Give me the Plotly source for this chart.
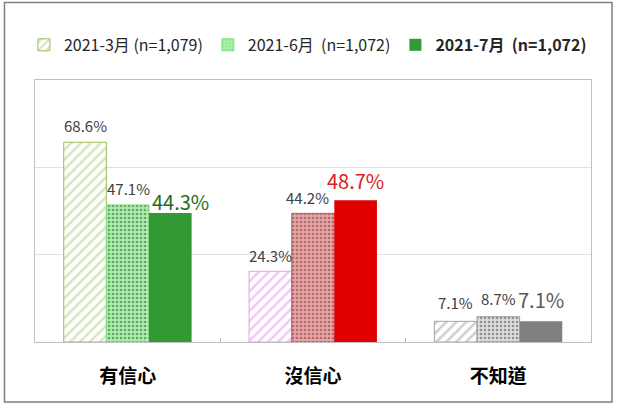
import plotly.graph_objects as go

categories = ["有信心", "沒信心", "不知道"]
series_names = ["2021-3月 (n=1,079)", "2021-6月  (n=1,072)", "<b>2021-7月  (n=1,072)</b>"]
mar_vals = [68.6, 24.3, 7.1]
jun_vals = [47.1, 44.2, 8.7]
jul_vals = [44.3, 48.7, 7.1]
all_vals = [mar_vals, jun_vals, jul_vals]

FONT = "Noto Sans CJK TC, Noto Sans, sans-serif"

mar_fg = ["#A9CC77", "#EE88EE", "#999999"]
mar_line = ["#9BBB59", "#E8A0E8", "#A6A6A6"]
jun_bg = ["#A6F2A6", "#F0A0A0", "#DDDDDD"]
jun_fg = ["#7AD87A", "#D04848", "#A8A8A8"]
jun_line = ["#80E080", "#C06060", "#A0A0A0"]
jul_col = ["#339933", "#E00000", "#808080"]
jul_text = ["#1E6E1E", "#E0201F", "#595959"]

# label styling (per series / per category)
label_sizes = [15, 15, 20]
label_colors = [["#404040"] * 3, ["#404040"] * 3, jul_text]
label_dx = [[0, 0, 0], [1, -6, 0], [10, 0, 0]]   # px nudges, as in the original
label_dy = [[4, 3, 6], [4, 3, 6], [-5, 3, 5]]

W, H = 619, 412
ML, MR, MT, MB = 35, 28, 80, 70
BARGAP = 0.31
plot_w = W - ML - MR
bar_px = plot_w / len(categories) * (1 - BARGAP) / 3

fig = go.Figure()
fig.add_trace(go.Bar(
    x=categories, y=mar_vals, name=series_names[0],
    marker=dict(color="white", line=dict(color=mar_line, width=1),
                pattern=dict(shape="/", fgcolor=mar_fg, bgcolor="white", size=7, solidity=0.35)),
))
fig.add_trace(go.Bar(
    x=categories, y=jun_vals, name=series_names[1],
    marker=dict(color=jun_bg, line=dict(color=jun_line, width=1),
                pattern=dict(shape=".", fgcolor=jun_fg, bgcolor=jun_bg, size=4, solidity=0.35)),
))
fig.add_trace(go.Bar(
    x=categories, y=jul_vals, name=series_names[2],
    marker=dict(color=jul_col, line=dict(width=0)),
))

for j, vals in enumerate(all_vals):
    for i, v in enumerate(vals):
        fig.add_annotation(
            x=categories[i], y=v, xref="x", yref="y",
            text=f"{v:.1f}%", showarrow=False,
            xanchor="center", yanchor="bottom",
            xshift=(j - 1) * bar_px + label_dx[j][i], yshift=label_dy[j][i],
            font=dict(size=label_sizes[j], color=label_colors[j][i], family=FONT),
        )

fig.update_layout(
    width=W, height=H,
    margin=dict(l=ML, r=MR, t=MT, b=MB),
    paper_bgcolor="white", plot_bgcolor="white",
    barmode="group", bargap=BARGAP, bargroupgap=0,
    font=dict(family=FONT, color="#262626"),
    showlegend=True,
    legend=dict(orientation="h", x=-0.02, xanchor="left", y=1.134, yanchor="middle",
                font=dict(size=16, color="#262626", family=FONT),
                itemwidth=30, tracegroupgap=0, traceorder="normal"),
    xaxis=dict(showline=True, linecolor="#BFBFBF", linewidth=1, mirror=True,
               ticks="inside", tickson="boundaries", ticklen=4, tickcolor="#BFBFBF",
               tickfont=dict(size=19, color="#000000", family=FONT),
               ticklabelstandoff=17,
               showgrid=False),
    yaxis=dict(range=[0, 90], dtick=30, showgrid=True, gridcolor="#E0E0E0", gridwidth=1,
               showticklabels=False, showline=True, linecolor="#BFBFBF", mirror=True,
               zeroline=False, ticks=""),
    shapes=[dict(type="rect", xref="paper", yref="paper",
                 x0=-0.0549, x1=1.0378, y0=-0.229, y1=1.296,
                 line=dict(color="#7F7F7F", width=1.5), fillcolor="rgba(0,0,0,0)", layer="below")],
)
fig.update_xaxes(tickprefix="<b>", ticksuffix="</b>")

fig.write_html("out.html")
